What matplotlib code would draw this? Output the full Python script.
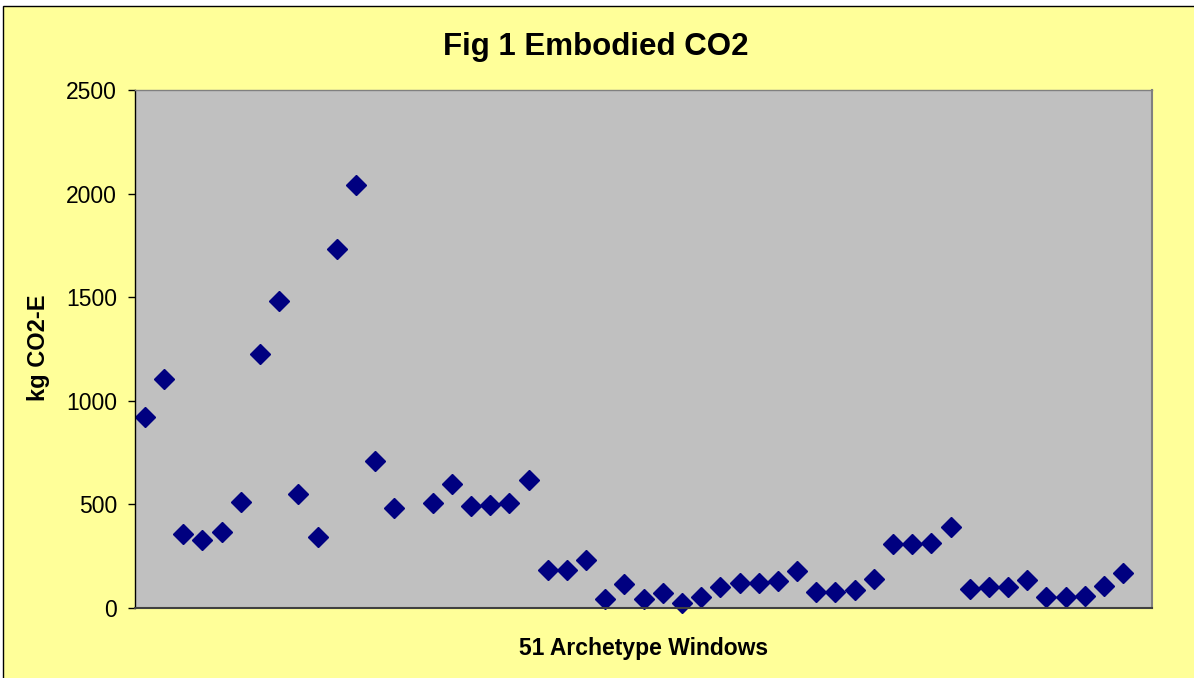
import numpy as np
import matplotlib
matplotlib.use("Agg")
import matplotlib.pyplot as plt
from matplotlib.patches import Rectangle

plt.rcParams['font.family'] = ['Liberation Sans', 'DejaVu Sans']

title = "Fig 1 Embodied CO2"
xlabel = "51 Archetype Windows"
ylabel = "kg CO2-E"

# category slots (one empty slot after window 14)
slots = list(range(1, 53))
values = [920, 1102, 356, 329, 365, 512, 1227, 1481, 547, 343, 1733, 2041, 708, 483,
          np.nan,
          504, 596, 491, 496, 504, 617, 182, 182, 230, 43, 113, 43, 71, 21, 50,
          98, 121, 121, 127, 177, 77, 77, 85, 140, 308, 308, 314, 391, 90, 98,
          98, 134, 50, 50, 56, 105, 169]
yticks = [0, 500, 1000, 1500, 2000, 2500]

W, H = 1194, 678
fig = plt.figure(figsize=(W / 100, H / 100), dpi=100)
fig.patch.set_facecolor('white')

# chart area (yellow with black border, cut at right/bottom)
bg = Rectangle((3 / W, -0.05), 1.1, 1 - 6 / H + 0.05,
               transform=fig.transFigure, facecolor='#FFFF99',
               edgecolor='black', linewidth=1.0, zorder=-10)
fig.patches.append(bg)

ax = fig.add_axes([135.3 / W, 1 - 607.7 / H, (1152 - 135.3) / W, (607.7 - 90) / H])
ax.set_zorder(1)
ax.set_facecolor('#C0C0C0')

ax.plot(slots, values, linestyle='none', marker='D', markersize=10.5,
        markerfacecolor='#000080', markeredgecolor='#000080', clip_on=False)

ax.set_xlim(0.5, 53.5)
ax.set_ylim(0, 2500)
ax.set_yticks(yticks)
ax.set_xticks([])
ax.tick_params(axis='y', direction='out', length=5, width=1, pad=8,
               labelsize=16.5, color='black')

ax.spines['left'].set_color('black')
ax.spines['left'].set_linewidth(1.0)
ax.spines['bottom'].set_color('#404040')
ax.spines['bottom'].set_linewidth(1.5)
ax.spines['right'].set_color('#808080')
ax.spines['right'].set_linewidth(1.5)
ax.spines['top'].set_color('#808080')
ax.spines['top'].set_linewidth(1.0)

fig.text(596 / W, 1 - 47 / H, title, ha='center', va='center',
         fontsize=22.5, fontweight='bold')
fig.text(644 / W, 1 - 648 / H, xlabel, ha='center', va='center',
         fontsize=16.5, fontweight='bold')
fig.text(38 / W, 1 - 348 / H, ylabel, ha='center', va='center',
         rotation=90, fontsize=17, fontweight='bold')

fig.savefig('out.png', dpi=100)
